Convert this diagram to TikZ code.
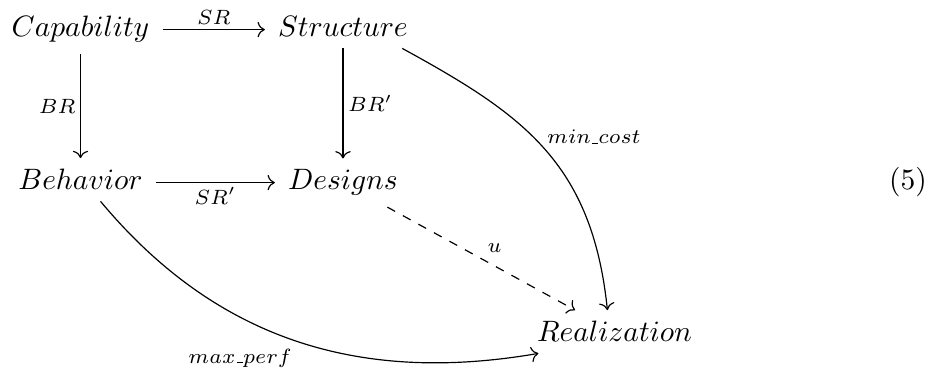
\documentclass[tikz,border=0pt]{standalone}
\usetikzlibrary{cd}
\newcommand{\lowbar}{\kern.06em\vbox{\hrule width .3em}}
\begin{document}
\begin{tikzpicture}[x=0.339pt,y=-0.339pt,
  obj/.style={anchor=base, inner xsep=1ex, inner ysep=0.85ex},
  lab/.style={font=\scriptsize, inner sep=1.5pt},
  arr/.style={-{cm to}, line width=0.4pt},
]
\useasboundingbox (0,0) rectangle (935,370);
\node[obj] (cap) at (80.5,37) {$Capability$};
\node[obj] (str) at (343,37) {$Structure$};
\node[obj] (beh) at (80.5,190) {$Behavior$};
\node[obj] (des) at (343,190) {$Designs$};
\node[obj] (rea) at (614.5,342) {$Realization$};
\node[anchor=base] (eqno) at (908,190) {(5)};

\draw[arr] ([yshift=2.5pt]cap.base east) -- node[lab, above] {$SR$} ([yshift=2.5pt]str.base west);
\draw[arr] ([yshift=2.5pt]beh.base east) -- node[lab, below] {$SR'$} ([yshift=2.5pt]des.base west);
\draw[arr] (cap.south) -- node[lab, left] {$BR$} (beh.north);
\draw[arr] (str.south) -- node[lab, right] {$BR'$} (des.north);
\draw[arr, dashed] (des) -- node[lab, midway, anchor=south west, inner sep=2pt] {$u$} (rea);
\draw[arr] ([xshift=-6.4pt]str.south east) .. controls (522,114) and (592,162) .. ([xshift=-2.4pt]rea.north)
  node[lab, pos=0.45, anchor=west, inner sep=4.5pt] {$min\lowbar cost$};
\draw[arr] ([xshift=6.8pt]beh.south) .. controls (217,341) and (361,384) .. ([xshift=5pt]rea.south west)
  node[lab, pos=0.48, anchor=north east, inner sep=2pt, xshift=3.5pt, yshift=-1.5pt] {$max\lowbar perf$};
\end{tikzpicture}
\end{document}
